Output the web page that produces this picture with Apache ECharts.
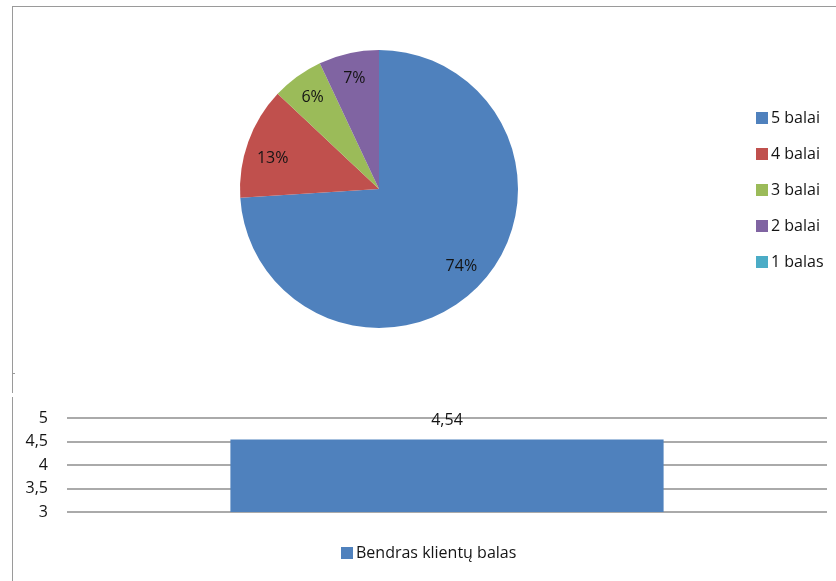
<!DOCTYPE html>
<html>
<head>
<meta charset="utf-8">
<script src="https://cdn.jsdelivr.net/npm/echarts@6/dist/echarts.min.js"></script>
<style>
  html, body { margin: 0; padding: 0; background: #fff; }
  #chart { width: 836px; height: 581px; }
</style>
</head>
<body>
<div id="chart"></div>
<script>
// Score distribution (percent of clients per score)
const scoreNames = ['5 balai', '4 balai', '3 balai', '2 balai', '1 balas'];
const scoreShares = [74, 13, 6, 7, 0];
const scoreColors = ['#4F81BD', '#C0504D', '#9BBB59', '#8064A2', '#4BACC6'];

// Overall client score
const barCategories = [''];
const barName = 'Bendras klientų balas';
const barValues = [4.54];
const yTicks = { min: 3, max: 5, interval: 0.5 };

const FONT = '"Open Sans", "Noto Sans", sans-serif';
const FS = 16;
const TEXT = '#141414';

const pieData = scoreNames.map((n, i) => ({
  name: n, value: scoreShares[i], itemStyle: { color: scoreColors[i] }
}));

// label ring data; the "4 balai" label sits a little lower in its slice
const pieLabelData = scoreNames.map((n, i) => ({
  name: n, value: scoreShares[i],
  label: n === '4 balai' ? { offset: [0, 8] } : undefined
}));

const chart = echarts.init(document.getElementById('chart'), null, { renderer: 'canvas' });

chart.setOption({
  animation: false,
  backgroundColor: '#ffffff',
  textStyle: { fontFamily: FONT },
  legend: [
    {
      orient: 'vertical', left: 751, top: 105,
      itemWidth: 12, itemHeight: 12, itemGap: 20,
      icon: 'rect',
      textStyle: { fontFamily: FONT, fontSize: FS, lineHeight: 16, color: TEXT, padding: [0, 0, 0, -2] },
      data: scoreNames,
      selectedMode: false
    },
    {
      left: 336, top: 540,
      itemWidth: 12, itemHeight: 12,
      icon: 'rect',
      textStyle: { fontFamily: FONT, fontSize: FS, lineHeight: 16, color: TEXT, padding: [0, 0, 0, -2] },
      data: [barName],
      selectedMode: false
    }
  ],
  grid: { left: 67, right: 9, top: 418, bottom: 69 },
  xAxis: {
    type: 'category', data: barCategories,
    axisLine: { show: false }, axisTick: { show: false }, axisLabel: { show: false }
  },
  yAxis: {
    type: 'value', min: yTicks.min, max: yTicks.max, interval: yTicks.interval,
    axisLine: { show: false }, axisTick: { show: false },
    axisLabel: {
      fontFamily: FONT, fontSize: FS, color: TEXT, margin: 19,
      formatter: v => String(v).replace('.', ',')
    },
    splitLine: { lineStyle: { color: '#8e8e8e', width: 1.5 } }
  },
  series: [
    {
      type: 'pie', name: 'fill',
      center: [379, 189], radius: [0, 139],
      startAngle: 90, clockwise: true,
      label: { show: false }, labelLine: { show: false },
      itemStyle: { borderWidth: 0 },
      emphasis: { disabled: true },
      data: pieData
    },
    {
      // transparent ring that carries the percentage labels
      type: 'pie', name: 'labels', silent: true,
      center: [379, 189], radius: [81, 139],
      startAngle: 90, clockwise: true,
      itemStyle: { color: 'rgba(0,0,0,0)', borderWidth: 0 },
      labelLine: { show: false },
      label: {
        show: true, position: 'inside',
        fontFamily: FONT, fontSize: FS, color: TEXT,
        formatter: p => (p.value > 0 ? p.value + '%' : '')
      },
      emphasis: { disabled: true },
      data: pieLabelData
    },
    {
      type: 'bar', name: barName,
      data: barValues, barWidth: '57%',
      itemStyle: { color: '#4F81BD' },
      label: {
        show: true, position: 'top', distance: 11,
        fontFamily: FONT, fontSize: FS, color: TEXT,
        formatter: p => String(p.value).replace('.', ',')
      },
      emphasis: { disabled: true }
    }
  ],
  graphic: [
    // frame of the upper chart area
    { type: 'line', shape: { x1: 12, y1: 6.5, x2: 836, y2: 6.5 }, style: { stroke: '#9a9a9a', lineWidth: 1 }, silent: true },
    { type: 'line', shape: { x1: 12.5, y1: 6, x2: 12.5, y2: 393 }, style: { stroke: '#9a9a9a', lineWidth: 1 }, silent: true },
    { type: 'line', shape: { x1: 12, y1: 373.5, x2: 15, y2: 373.5 }, style: { stroke: '#9a9a9a', lineWidth: 1 }, silent: true },
    // frame of the lower chart area
    { type: 'line', shape: { x1: 12.5, y1: 397, x2: 12.5, y2: 581 }, style: { stroke: '#9a9a9a', lineWidth: 1 }, silent: true }
  ]
});
</script>
</body>
</html>
